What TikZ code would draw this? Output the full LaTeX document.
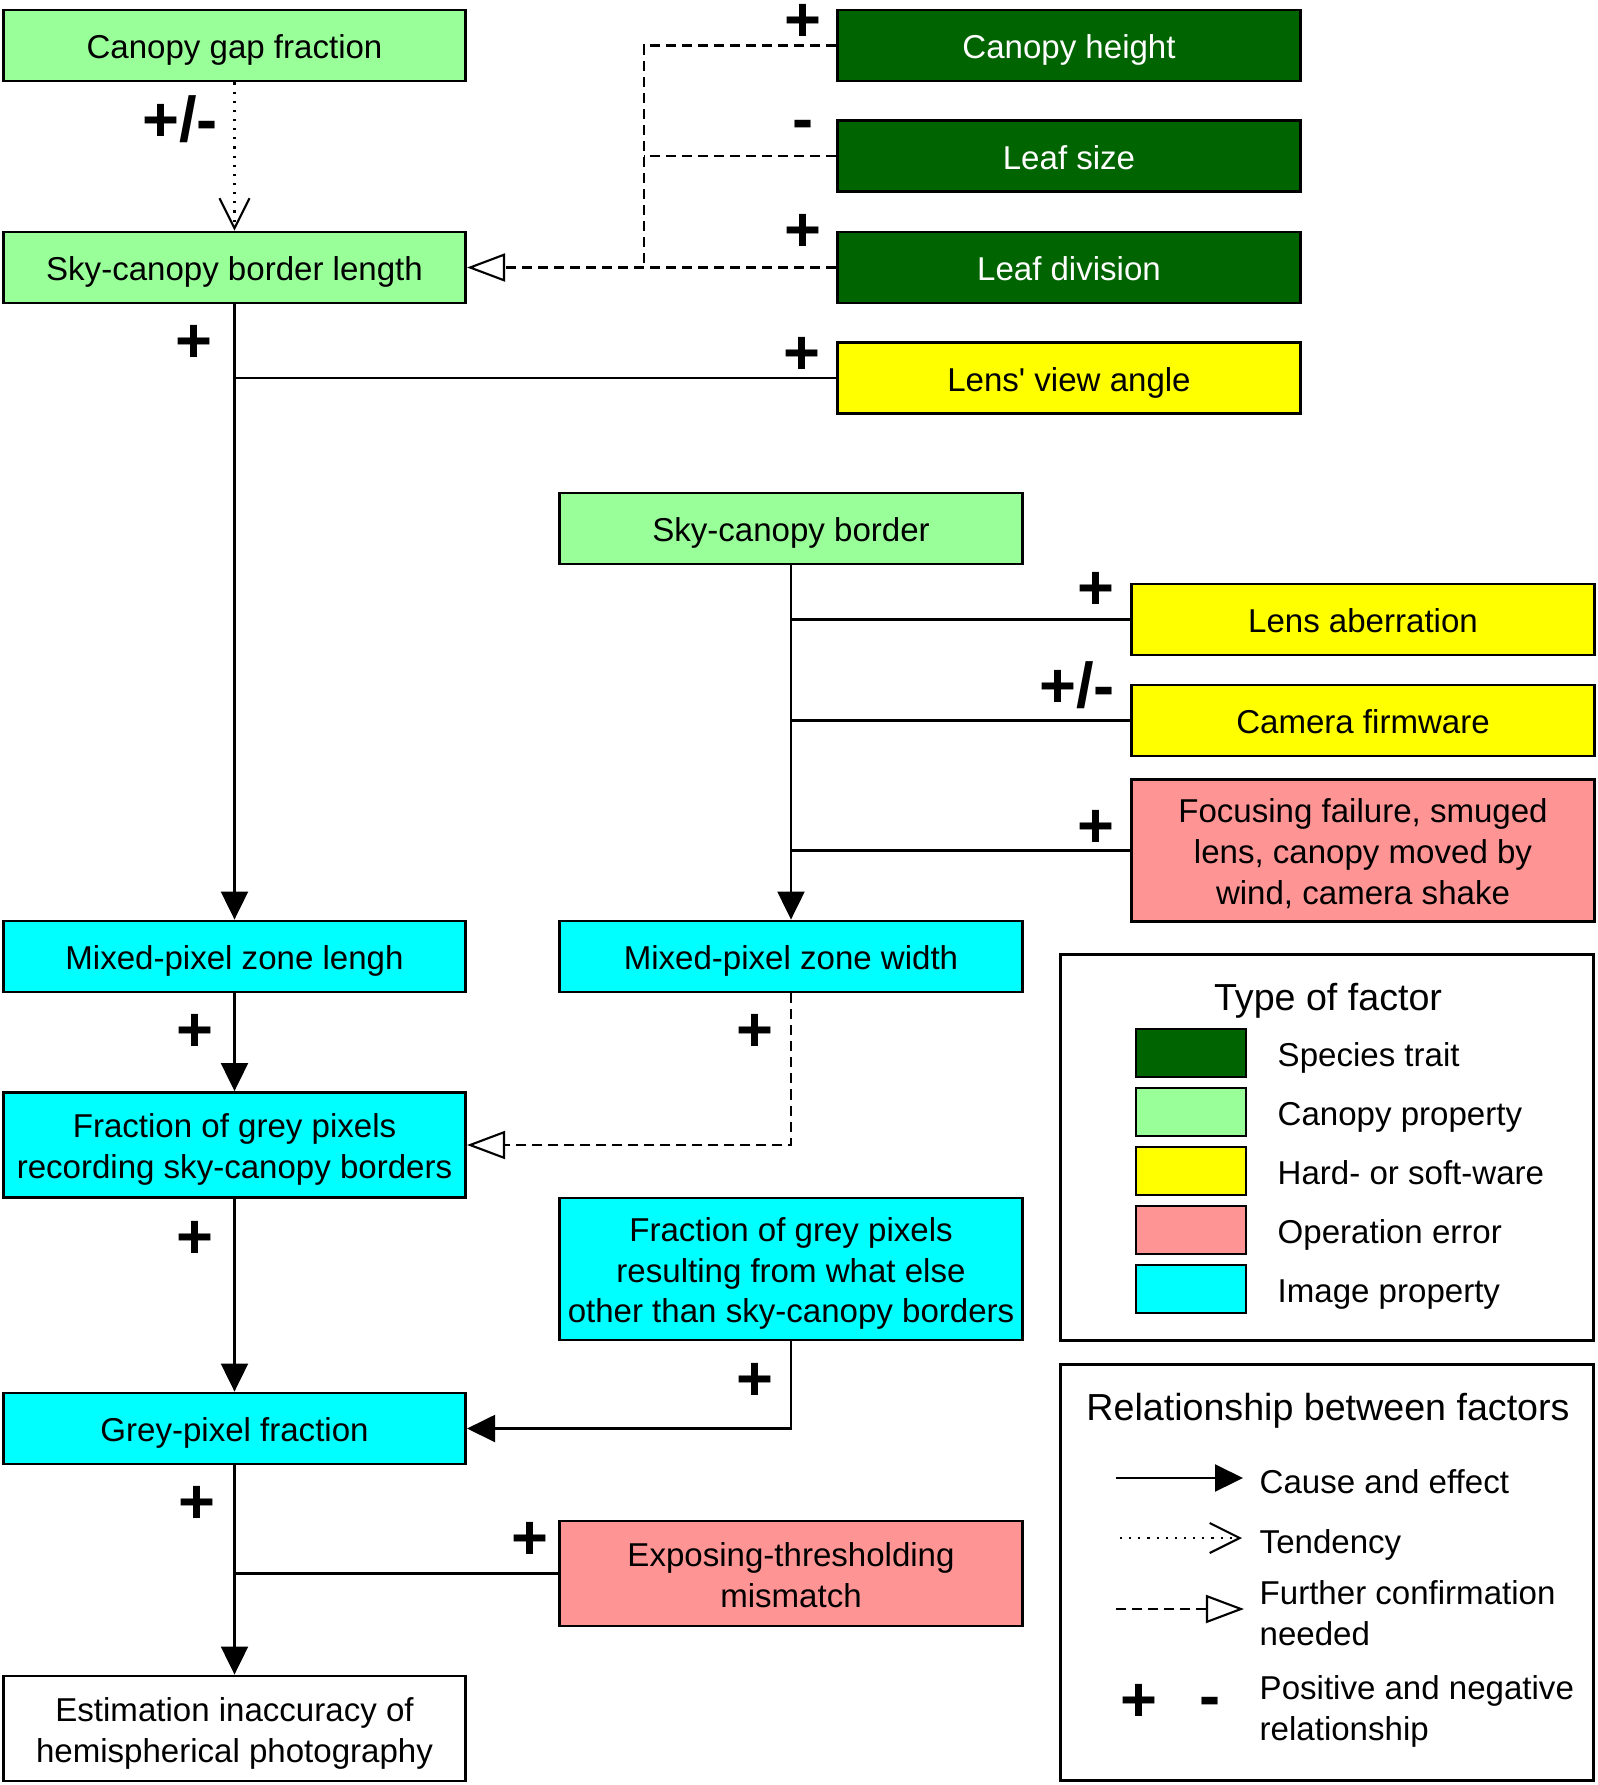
\documentclass[tikz,border=0pt]{standalone}
\usepackage{fontspec}
\setmainfont{Liberation Sans}
\usetikzlibrary{arrows.meta}
\definecolor{trait}{RGB}{0,100,0}
\definecolor{canopy}{RGB}{153,255,153}
\definecolor{ware}{RGB}{255,255,0}
\definecolor{operr}{RGB}{255,148,148}
\definecolor{imgprop}{RGB}{0,255,255}

\begin{document}
\begin{tikzpicture}[x=0.01cm, y=-0.01cm, line join=miter,
	font=\fontsize{9.4pt}{11.6pt}\selectfont,
	box/.style={draw, line width=0.8pt, minimum width=4.62cm, minimum height=0.71cm,
		inner sep=0pt, align=center, text height=8.9pt, text depth=1.4pt},
	tall/.style={minimum height=1.05cm, text height=20.5pt},
	taller/.style={minimum height=1.42cm, text height=32.1pt},
	sign/.style={inner sep=0pt, font=\fontsize{18pt}{18pt}\bfseries\selectfont},
	link/.style={line width=0.6pt},
	cause/.style={link, -{Triangle[length=0.28cm, width=0.27cm]}},
	tend/.style={link, dotted, -{Straight Barb[length=0.3cm, width=0.3cm]}},
	dashline/.style={link, dash pattern=on 0.1cm off 0.06cm},
	confirm/.style={dashline, -{Triangle[open, length=0.38cm, width=0.28cm]}},
	swatch/.style={draw, line width=0.8pt, minimum width=1.1cm, minimum height=0.48cm, inner sep=0pt},
	legtitle/.style={inner sep=0pt, text height=10.2pt, text depth=1.6pt,
		font=\fontsize{10.7pt}{13pt}\selectfont},
	legtext/.style={anchor=west, inner sep=0pt, align=left, text height=8.9pt, text depth=1.4pt}]

\useasboundingbox (0,0) rectangle (1598,1785);

% ===== Factors =====
\node[box, fill=canopy] (cgf) at (234.5,45.5) {Canopy gap fraction};
\node[box, fill=canopy] (scbl) at (234.5,267.5) {Sky-canopy border length};
\node[box, fill=trait, text=white] (ch) at (1069,45.5) {Canopy height};
\node[box, fill=trait, text=white] (ls) at (1069,156) {Leaf size};
\node[box, fill=trait, text=white] (ld) at (1069,267.5) {Leaf division};
\node[box, fill=ware] (lva) at (1069,378) {Lens\textquotesingle{} view angle};

\node[box, fill=canopy] (scb) at (791,528.5) {Sky-canopy border};
\node[box, fill=ware] (la) at (1363,619.5) {Lens aberration};
\node[box, fill=ware] (cf) at (1363,720.5) {Camera firmware};
\node[box, taller, fill=operr] (ff) at (1363,850.5)
	{Focusing failure, smuged\\lens, canopy moved by\\wind, camera shake};

\node[box, fill=imgprop] (mpzl) at (234.5,956.5) {Mixed-pixel zone lengh};
\node[box, fill=imgprop] (mpzw) at (791,956.5) {Mixed-pixel zone width};
\node[box, tall, fill=imgprop] (frr) at (234.5,1145)
	{Fraction of grey pixels\\recording sky-canopy borders};
\node[box, taller, fill=imgprop] (frs) at (791,1269)
	{Fraction of grey pixels\\resulting from what else\\other than sky-canopy borders};
\node[box, fill=imgprop] (gpf) at (234.5,1428.5) {Grey-pixel fraction};
\node[box, tall, fill=operr] (etm) at (791,1573.5) {Exposing-thresholding\\mismatch};
\node[box, tall, fill=white] (eia) at (234.5,1728.5)
	{Estimation inaccuracy of\\hemispherical photography};

% ===== Connectors =====
\coordinate (jt) at (644,267.5);
\draw[tend] (cgf) -- (scbl);
\draw[dashline] (ch.west) -| (jt);
\draw[dashline] (ls.west) -- (ls.west -| jt);
\draw[confirm] (ld.west) -- (scbl.east);
\draw[link] (lva.west) -- (lva.west -| scbl.south);
\draw[cause] (scbl) -- (mpzl);

\draw[cause] (scb) -- (mpzw);
\foreach \n in {la,cf,ff}
	\draw[link] (\n.west) -- (\n.west -| scb.south);

\draw[cause] (mpzl) -- (frr);
\draw[confirm] (mpzw.south) |- (frr.east);
\draw[cause] (frr) -- (gpf);
\draw[cause] (frs.south) |- (gpf.east);
\draw[cause] (gpf) -- (eia);
\draw[link] (etm.west) -- (etm.west -| gpf.south);

% signs
\node[sign] (s1) at (180,119) {+/-};
\node[sign] (s2) at (803,23) {+};
\node[sign] (s3) at (803,130) {-};
\node[sign] (s4) at (803,233) {+};
\node[sign] (s5) at (802,356) {+};
\node[sign] (s6) at (194,344) {+};
\node[sign] (s7) at (1096,591) {+};
\node[sign] (s8) at (1077,685) {+/-};
\node[sign] (s9) at (1096,829) {+};
\node[sign] (s10) at (195,1033) {+};
\node[sign] (s11) at (755,1033) {+};
\node[sign] (s12) at (195,1240) {+};
\node[sign] (s13) at (755,1382) {+};
\node[sign] (s14) at (197,1505) {+};
\node[sign] (s15) at (530,1541) {+};

% ===== Legend: type of factor =====
\node[draw, line width=0.8pt, minimum width=5.32cm, minimum height=3.85cm, inner sep=0pt]
	(lg1) at (1327,1147.5) {};
\node[legtitle] (lt1) at (1328,995) {Type of factor};
\foreach \c/\t [count=\i] in {trait/Species trait, canopy/Canopy property,
		ware/Hard- or soft-ware, operr/Operation error, imgprop/Image property} {
	\node[swatch, fill=\c] (sw\i) at (1191,{1053+59*(\i-1)}) {};
	\node[legtext] (lb\i) at (1277,{1053+59*(\i-1)}) {\t};
}

% ===== Legend: relationship =====
\node[draw, line width=0.8pt, minimum width=5.32cm, minimum height=4.15cm, inner sep=0pt]
	(lg2) at (1327,1572.5) {};
\node[legtitle] (lt2) at (1328,1405) {Relationship between factors};
\coordinate (c1a) at (1116,1478); \coordinate (c1b) at (1243,1478);
\coordinate (c2a) at (1120,1538); \coordinate (c2b) at (1242,1538);
\coordinate (c3a) at (1116,1609); \coordinate (c3b) at (1244,1609);
\draw[cause] (c1a) -- (c1b);
\draw[tend] (c2a) -- (c2b);
\draw[confirm] (c3a) -- (c3b);
\node[legtext] (lr1) at (1259,1480) {Cause and effect};
\node[legtext] (lr2) at (1259,1540) {Tendency};
\node[legtext, text height=20.5pt] (lr3) at (1259,1612) {Further confirmation\\needed};
\node[sign] (ps) at (1139,1703) {+};
\node[sign] (ms) at (1210,1707) {-};
\node[legtext, text height=20.5pt] (lr4) at (1259,1707) {Positive and negative\\relationship};

\end{tikzpicture}
\end{document}
